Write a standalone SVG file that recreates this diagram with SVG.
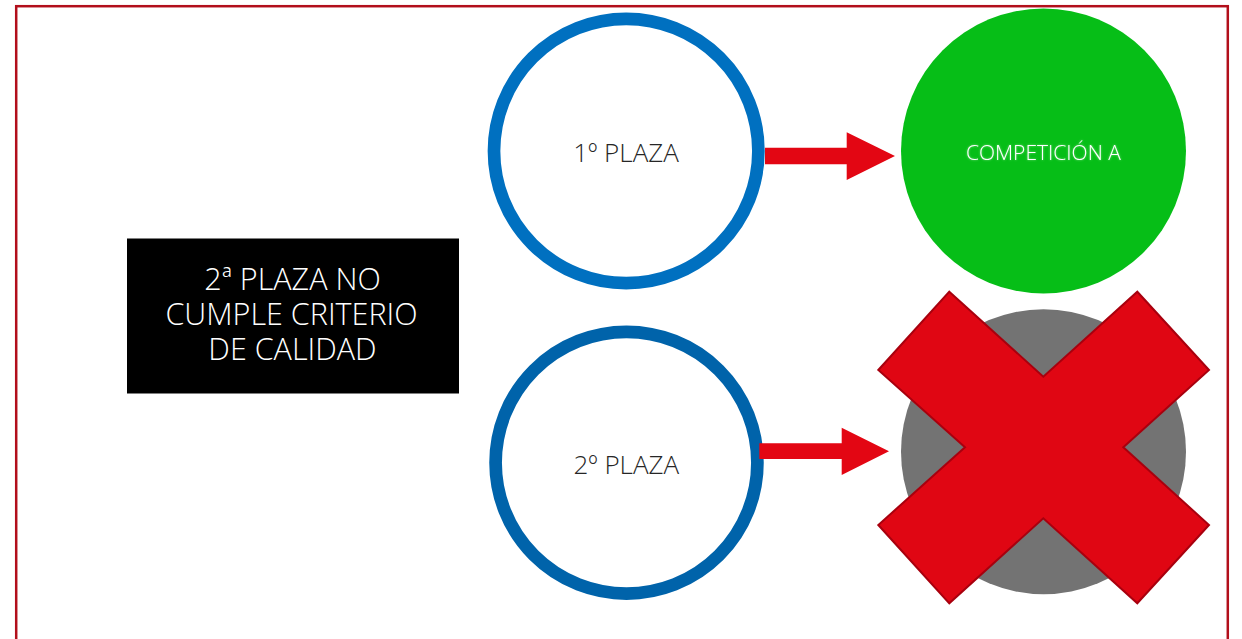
<svg xmlns="http://www.w3.org/2000/svg" width="1242" height="639" viewBox="0 0 1242 639">
<style>
.lbl{font-family:"Open Sans","Noto Sans","Liberation Sans",sans-serif;font-weight:300;text-anchor:middle}
.ring{fill:#ffffff;stroke-width:12.7}
.arrow{fill:#E30613}
</style>
<defs>
<filter id="glow" x="-10%" y="-30%" width="120%" height="160%">
<feGaussianBlur in="SourceAlpha" stdDeviation="1.2" result="b"/>
<feFlood flood-color="#ffffff" flood-opacity="0.45"/>
<feComposite in2="b" operator="in" result="g"/>
<feMerge><feMergeNode in="g"/><feMergeNode in="SourceGraphic"/></feMerge>
</filter>
</defs>
<rect x="0" y="0" width="1242" height="639" fill="#ffffff"/>
<rect id="frame" x="16.2" y="6.2" width="1211.6" height="700" fill="none" stroke="#B20F1B" stroke-width="2.5"/>
<g id="note">
<rect x="127" y="238.5" width="332" height="155" fill="#000000"/>
<text class="lbl" font-size="30.5" fill="#ffffff" x="292.5" y="290">2ª PLAZA NO</text>
<text class="lbl" font-size="30.5" fill="#ffffff" x="291.5" y="324.5">CUMPLE CRITERIO</text>
<text class="lbl" font-size="30.5" fill="#ffffff" x="292.5" y="359.5">DE CALIDAD</text>
</g>
<g id="plaza1">
<circle class="ring" cx="626.2" cy="151" r="132.2" stroke="#0070C0"/>
<text class="lbl" x="626" y="162.3" font-size="26" fill="#262626">1º PLAZA</text>
</g>
<g id="plaza2">
<circle class="ring" cx="626.5" cy="462.7" r="130.9" stroke="#0063AA"/>
<text class="lbl" x="626.3" y="474" font-size="26" fill="#262626">2º PLAZA</text>
</g>
<g id="compA">
<circle cx="1043.5" cy="151" r="142.5" fill="#06BE17"/>
<text class="lbl" x="1043.4" y="160" font-size="21" fill="#ffffff" filter="url(#glow)">COMPETICIÓN A</text>
</g>
<g id="rejected">
<circle cx="1043.5" cy="451.7" r="142.5" fill="#737373"/>
<polygon points="949.3,291.7 1043.3,376.7 1137.3,291.7 1209,370 1123.3,447.3 1209,525 1137.3,603.3 1043.3,518.3 949.3,603.3 878.3,525 965,447.3 878.3,370" fill="#E00613" stroke="#A8000E" stroke-width="2"/>
</g>
<g id="connectors">
<polygon class="arrow" points="765,147.7 846.7,147.7 846.7,132.3 895,156 846.7,180 846.7,164.3 765,164.3"/>
<polygon class="arrow" points="759.3,443.3 841.7,443.3 841.7,427.7 889,451.3 841.7,475 841.7,459 759.3,459"/>
</g>
</svg>
